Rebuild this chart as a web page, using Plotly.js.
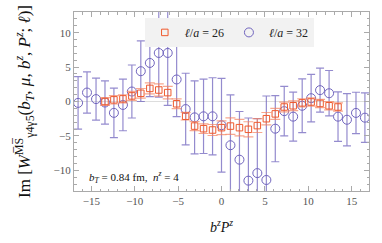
<!DOCTYPE html>
<html><head><meta charset="utf-8">
<script src="https://cdn.plot.ly/plotly-3.0.1.min.js"></script>
<style>html,body{margin:0;padding:0;background:#fff}#plot{width:382px;height:243px}</style>
</head><body><div id="plot"></div>
<script>
// l/a = 32 (blue circles)
const x32 = [-16.53,-15.50,-14.46,-13.43,-12.40,-11.36,-10.33,-9.30,-8.26,-7.23,-6.20,-5.17,-4.13,-3.10,-2.07,-1.03,0,1.03,2.07,3.10,4.13,5.17,6.20,7.23,8.26,9.30,10.33,11.36,12.40,13.43,14.46,15.50,16.53];
const y32 = [-0.2,1.3,0.35,-0.15,-1.65,-0.5,1.45,4.4,5.6,7.05,7.05,3.2,-1.1,-2.3,-2.15,-2.15,-3.45,-6.35,-8.45,-11.5,-10.4,-11.4,-3.95,-1.4,-2.2,-0.62,0.48,1.65,1.2,-2.2,-2.65,-1.66,-2.35];
const e32 = [3.8,3.0,3.05,3.15,3.6,3.75,3.85,4.4,4.9,6.4,7.6,5.4,5.2,5.3,5.4,5.6,6.8,7.3,7.0,9.1,7.9,12.2,4.8,3.6,3.55,3.9,3.45,3.2,3.3,3.6,3.8,3.0,3.6];
// l/a = 26 (orange squares)
const x26 = [-13.43,-12.40,-11.36,-10.33,-9.30,-8.26,-7.23,-6.20,-5.17,-4.13,-3.10,-2.07,-1.03,0,1.03,2.07,3.10,4.13,5.17,6.20,7.23,8.26,9.30,10.33,11.36,12.40,13.43];
const y26 = [0.0,0.24,0.38,0.81,1.19,1.9,1.67,1.29,-0.33,-2.14,-3.57,-3.95,-4.14,-3.8,-3.57,-3.8,-4.04,-3.5,-2.5,-1.8,-0.8,-0.62,-0.2,-0.07,-0.28,-0.62,-0.8];
const e26 = [0.55,0.6,0.6,0.65,0.7,0.8,0.9,0.9,0.7,0.55,0.65,0.7,0.8,1.0,1.2,1.2,1.1,1.0,0.9,0.8,0.7,0.7,0.6,0.6,0.6,0.6,0.6];
const names = ['<i>ℓ</i>/<i>a</i> = 32', '<i>ℓ</i>/<i>a</i> = 26'];

const serif = 'Liberation Serif, DejaVu Serif, serif';
const blue = 'rgb(112,100,190)';
const orange = 'rgb(240,90,45)';

const traces = [
  {x:x32, y:y32, type:'scatter', mode:'markers', name:names[0],
   marker:{symbol:'circle-open', size:9, color:blue, line:{width:1, color:blue}},
   error_y:{type:'data', array:e32, visible:true, color:'rgba(112,100,190,0.75)', thickness:1.2, width:4}},
  {x:x26, y:y26, type:'scatter', mode:'markers', name:names[1],
   marker:{symbol:'square-open', size:6.5, color:orange, line:{width:1, color:orange}},
   error_y:{type:'data', array:e26, visible:true, color:'rgba(245,130,95,0.7)', thickness:1.2, width:5}}
];

const axisCommon = {
  showgrid:false, showline:true, linecolor:'#aaaaaa', linewidth:1, mirror:'allticks',
  ticks:'inside', ticklen:5, tickcolor:'#aaaaaa', tickwidth:1,
  tickfont:{family:serif, size:11, color:'#555'},
  minor:{dtick:1, ticks:'inside', ticklen:2.5, tickcolor:'#aaaaaa'}
};

const layout = {
  width:382, height:243,
  margin:{l:74, r:13, t:11, b:50},
  paper_bgcolor:'#fff', plot_bgcolor:'#fff',
  showlegend:true,
  legend:{orientation:'h', x:0.24, y:0.967, xanchor:'left', yanchor:'top',
    bgcolor:'#f2f2f2', borderwidth:0, traceorder:'reversed',
    font:{family:serif, size:12, color:'#222'}},
  xaxis: Object.assign({}, axisCommon, {range:[-17,17], dtick:5, zeroline:false, automargin:true,
    title:{text:'<i>b</i><sup><i>z</i></sup><i>P</i><sup><i>z</i></sup>', font:{family:serif, size:14, color:'#111'}, standoff:15}}),
  yaxis: Object.assign({}, axisCommon, {range:[-13,13], dtick:5, zeroline:true, zerolinecolor:'#dddddd', zerolinewidth:1,
    title:{text:'Im [<i>W</i><sup>M̅S̅</sup><sub>γ4γ5</sub>(<i>b<sub>T</sub></i>, <i>μ</i>, <i>b<sup>z</sup></i>, <i>P<sup>z</sup></i>; <i>ℓ</i>)]', font:{family:serif, size:17, color:'#111'}}}),
  annotations:[{xref:'paper', yref:'paper', x:0.045, y:0.08, xanchor:'left', yanchor:'middle', showarrow:false,
    text:'<i>b<sub>T</sub></i> = 0.84 fm,  <i>n<sup>z</sup></i> = 4', font:{family:serif, size:11, color:'#111'}}]
};

Plotly.newPlot('plot', traces, layout, {staticPlot:true, displayModeBar:false});
</script></body></html>
